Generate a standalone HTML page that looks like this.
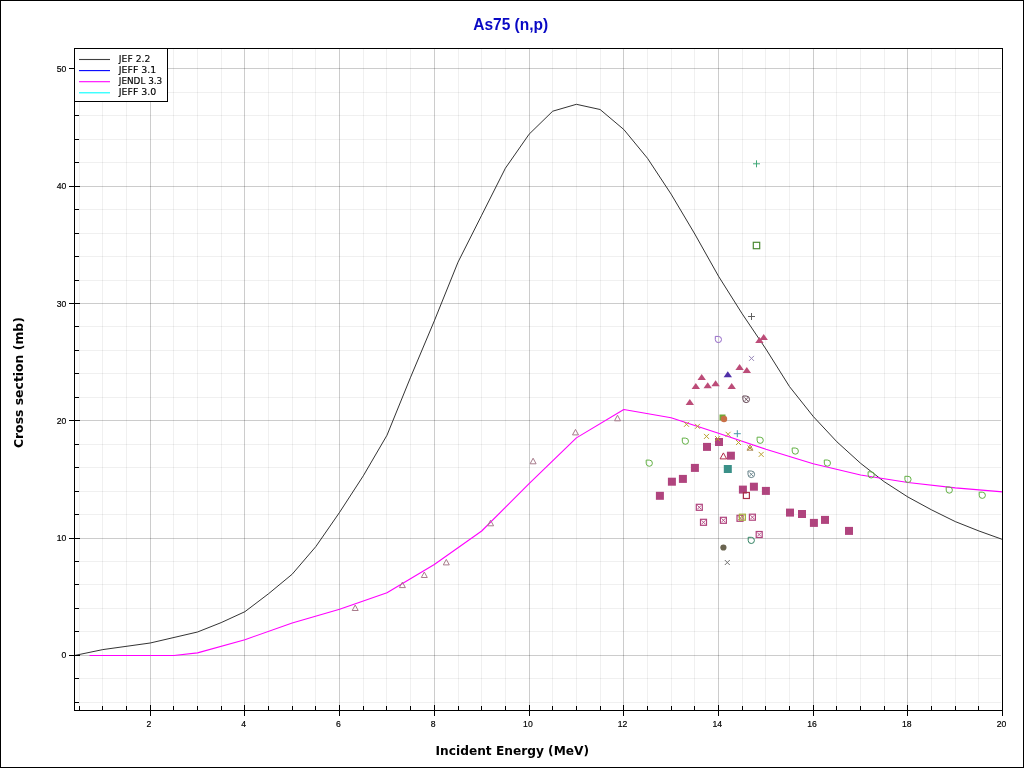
<!DOCTYPE html>
<html lang="en"><head><meta charset="utf-8"><title>As75 (n,p)</title>
<style>
html,body{margin:0;padding:0;background:#fff;}
body{width:1024px;height:768px;overflow:hidden;position:relative;font-family:"Liberation Sans",sans-serif;}
svg{position:absolute;left:0;top:0;display:block}
text{font-family:"Liberation Sans",sans-serif;}
.ax{font-family:"DejaVu Sans","Liberation Sans",sans-serif}
.tk{font-size:9.9px;fill:#000;stroke:#000;stroke-width:0.2px}
.lg{font-size:9.2px;fill:#000;stroke:#000;stroke-width:0.15px;font-family:"DejaVu Sans","Liberation Sans",sans-serif}
</style></head><body>
<svg width="1024" height="768" viewBox="0 0 1024 768">
<rect x="0.5" y="0.5" width="1023" height="767" fill="#fff" stroke="#000" stroke-width="1" shape-rendering="crispEdges"/>

<g shape-rendering="crispEdges" stroke-width="1">
<line x1="79.5" y1="49" x2="79.5" y2="710" stroke="rgba(0,0,0,0.058)"/>
<line x1="102.5" y1="49" x2="102.5" y2="710" stroke="rgba(0,0,0,0.058)"/>
<line x1="126.5" y1="49" x2="126.5" y2="710" stroke="rgba(0,0,0,0.058)"/>
<line x1="173.5" y1="49" x2="173.5" y2="710" stroke="rgba(0,0,0,0.058)"/>
<line x1="197.5" y1="49" x2="197.5" y2="710" stroke="rgba(0,0,0,0.058)"/>
<line x1="221.5" y1="49" x2="221.5" y2="710" stroke="rgba(0,0,0,0.058)"/>
<line x1="268.5" y1="49" x2="268.5" y2="710" stroke="rgba(0,0,0,0.058)"/>
<line x1="292.5" y1="49" x2="292.5" y2="710" stroke="rgba(0,0,0,0.058)"/>
<line x1="315.5" y1="49" x2="315.5" y2="710" stroke="rgba(0,0,0,0.058)"/>
<line x1="363.5" y1="49" x2="363.5" y2="710" stroke="rgba(0,0,0,0.058)"/>
<line x1="386.5" y1="49" x2="386.5" y2="710" stroke="rgba(0,0,0,0.058)"/>
<line x1="410.5" y1="49" x2="410.5" y2="710" stroke="rgba(0,0,0,0.058)"/>
<line x1="458.5" y1="49" x2="458.5" y2="710" stroke="rgba(0,0,0,0.058)"/>
<line x1="481.5" y1="49" x2="481.5" y2="710" stroke="rgba(0,0,0,0.058)"/>
<line x1="505.5" y1="49" x2="505.5" y2="710" stroke="rgba(0,0,0,0.058)"/>
<line x1="552.5" y1="49" x2="552.5" y2="710" stroke="rgba(0,0,0,0.058)"/>
<line x1="576.5" y1="49" x2="576.5" y2="710" stroke="rgba(0,0,0,0.058)"/>
<line x1="600.5" y1="49" x2="600.5" y2="710" stroke="rgba(0,0,0,0.058)"/>
<line x1="647.5" y1="49" x2="647.5" y2="710" stroke="rgba(0,0,0,0.058)"/>
<line x1="671.5" y1="49" x2="671.5" y2="710" stroke="rgba(0,0,0,0.058)"/>
<line x1="694.5" y1="49" x2="694.5" y2="710" stroke="rgba(0,0,0,0.058)"/>
<line x1="742.5" y1="49" x2="742.5" y2="710" stroke="rgba(0,0,0,0.058)"/>
<line x1="765.5" y1="49" x2="765.5" y2="710" stroke="rgba(0,0,0,0.058)"/>
<line x1="789.5" y1="49" x2="789.5" y2="710" stroke="rgba(0,0,0,0.058)"/>
<line x1="836.5" y1="49" x2="836.5" y2="710" stroke="rgba(0,0,0,0.058)"/>
<line x1="860.5" y1="49" x2="860.5" y2="710" stroke="rgba(0,0,0,0.058)"/>
<line x1="884.5" y1="49" x2="884.5" y2="710" stroke="rgba(0,0,0,0.058)"/>
<line x1="931.5" y1="49" x2="931.5" y2="710" stroke="rgba(0,0,0,0.058)"/>
<line x1="955.5" y1="49" x2="955.5" y2="710" stroke="rgba(0,0,0,0.058)"/>
<line x1="978.5" y1="49" x2="978.5" y2="710" stroke="rgba(0,0,0,0.058)"/>
<line x1="75" y1="702.5" x2="1001" y2="702.5" stroke="rgba(0,0,0,0.058)"/>
<line x1="75" y1="678.5" x2="1001" y2="678.5" stroke="rgba(0,0,0,0.058)"/>
<line x1="75" y1="631.5" x2="1001" y2="631.5" stroke="rgba(0,0,0,0.058)"/>
<line x1="75" y1="608.5" x2="1001" y2="608.5" stroke="rgba(0,0,0,0.058)"/>
<line x1="75" y1="584.5" x2="1001" y2="584.5" stroke="rgba(0,0,0,0.058)"/>
<line x1="75" y1="561.5" x2="1001" y2="561.5" stroke="rgba(0,0,0,0.058)"/>
<line x1="75" y1="514.5" x2="1001" y2="514.5" stroke="rgba(0,0,0,0.058)"/>
<line x1="75" y1="491.5" x2="1001" y2="491.5" stroke="rgba(0,0,0,0.058)"/>
<line x1="75" y1="467.5" x2="1001" y2="467.5" stroke="rgba(0,0,0,0.058)"/>
<line x1="75" y1="444.5" x2="1001" y2="444.5" stroke="rgba(0,0,0,0.058)"/>
<line x1="75" y1="397.5" x2="1001" y2="397.5" stroke="rgba(0,0,0,0.058)"/>
<line x1="75" y1="373.5" x2="1001" y2="373.5" stroke="rgba(0,0,0,0.058)"/>
<line x1="75" y1="350.5" x2="1001" y2="350.5" stroke="rgba(0,0,0,0.058)"/>
<line x1="75" y1="326.5" x2="1001" y2="326.5" stroke="rgba(0,0,0,0.058)"/>
<line x1="75" y1="280.5" x2="1001" y2="280.5" stroke="rgba(0,0,0,0.058)"/>
<line x1="75" y1="256.5" x2="1001" y2="256.5" stroke="rgba(0,0,0,0.058)"/>
<line x1="75" y1="233.5" x2="1001" y2="233.5" stroke="rgba(0,0,0,0.058)"/>
<line x1="75" y1="209.5" x2="1001" y2="209.5" stroke="rgba(0,0,0,0.058)"/>
<line x1="75" y1="162.5" x2="1001" y2="162.5" stroke="rgba(0,0,0,0.058)"/>
<line x1="75" y1="139.5" x2="1001" y2="139.5" stroke="rgba(0,0,0,0.058)"/>
<line x1="75" y1="115.5" x2="1001" y2="115.5" stroke="rgba(0,0,0,0.058)"/>
<line x1="75" y1="92.5" x2="1001" y2="92.5" stroke="rgba(0,0,0,0.058)"/>
<line x1="150.5" y1="49" x2="150.5" y2="710" stroke="rgba(0,0,0,0.2)"/>
<line x1="244.5" y1="49" x2="244.5" y2="710" stroke="rgba(0,0,0,0.2)"/>
<line x1="339.5" y1="49" x2="339.5" y2="710" stroke="rgba(0,0,0,0.2)"/>
<line x1="434.5" y1="49" x2="434.5" y2="710" stroke="rgba(0,0,0,0.2)"/>
<line x1="529.5" y1="49" x2="529.5" y2="710" stroke="rgba(0,0,0,0.2)"/>
<line x1="623.5" y1="49" x2="623.5" y2="710" stroke="rgba(0,0,0,0.2)"/>
<line x1="718.5" y1="49" x2="718.5" y2="710" stroke="rgba(0,0,0,0.2)"/>
<line x1="813.5" y1="49" x2="813.5" y2="710" stroke="rgba(0,0,0,0.2)"/>
<line x1="907.5" y1="49" x2="907.5" y2="710" stroke="rgba(0,0,0,0.2)"/>
<line x1="75" y1="655.5" x2="1001" y2="655.5" stroke="rgba(0,0,0,0.2)"/>
<line x1="75" y1="538.5" x2="1001" y2="538.5" stroke="rgba(0,0,0,0.2)"/>
<line x1="75" y1="420.5" x2="1001" y2="420.5" stroke="rgba(0,0,0,0.2)"/>
<line x1="75" y1="303.5" x2="1001" y2="303.5" stroke="rgba(0,0,0,0.2)"/>
<line x1="75" y1="186.5" x2="1001" y2="186.5" stroke="rgba(0,0,0,0.2)"/>
<line x1="75" y1="68.5" x2="1001" y2="68.5" stroke="rgba(0,0,0,0.2)"/>
</g>
<polyline points="74.4,655.5 102.8,649.6 150.2,643.0 197.5,632.0 221.2,622.6 244.9,611.7 268.6,593.7 292.2,574.2 315.9,546.5 339.6,512.3 363.3,475.8 387.0,435.2 410.6,377.2 434.3,320.9 458.0,262.2 481.7,215.2 505.4,168.2 529.1,134.2 552.7,111.2 576.4,104.3 600.1,109.5 623.8,129.5 647.5,158.3 671.1,194.1 694.8,234.0 718.5,276.2 742.2,313.8 765.9,349.0 789.5,386.6 813.2,416.4 836.9,441.8 860.6,463.3 884.2,481.7 907.9,497.0 931.6,509.9 955.3,521.6 979.0,531.0 1002.7,539.5" fill="none" stroke="#1c1c1c" stroke-width="0.9" stroke-linejoin="round"/>
<polyline points="89.5,655.5 173.9,655.5 197.5,652.9 244.9,639.7 292.2,623.0 339.6,609.3 387.0,592.8 434.3,564.5 481.7,531.0 529.1,483.7 576.4,437.9 623.8,409.5 671.1,417.7 718.5,433.2 765.9,449.2 813.2,463.7 860.6,475.0 907.9,482.5 955.3,487.9 1002.7,491.9" fill="none" stroke="#ff00ff" stroke-width="1.1" stroke-linejoin="round"/>
<path d="M352.2 610.5L355.2 605.0L358.2 610.5Z" fill="none" stroke="#a87c8c" stroke-width="1"/>
<path d="M399.4 587.6L402.4 582.1L405.4 587.6Z" fill="none" stroke="#a87c8c" stroke-width="1"/>
<path d="M421.3 577.5L424.3 572.0L427.3 577.5Z" fill="none" stroke="#a87c8c" stroke-width="1"/>
<path d="M443.3 564.9L446.3 559.4L449.3 564.9Z" fill="none" stroke="#a87c8c" stroke-width="1"/>
<path d="M487.6 525.8L490.6 520.2L493.6 525.8Z" fill="none" stroke="#a87c8c" stroke-width="1"/>
<path d="M530.1 463.8L533.1 458.2L536.1 463.8Z" fill="none" stroke="#a87c8c" stroke-width="1"/>
<path d="M572.5 434.9L575.5 429.4L578.5 434.9Z" fill="none" stroke="#a87c8c" stroke-width="1"/>
<path d="M614.5 420.8L617.5 415.2L620.5 420.8Z" fill="none" stroke="#a87c8c" stroke-width="1"/>
<path d="M646.2 460.1L649.3 460.1A3.1 3.1 0 0 1 652.4 463.2A3.1 3.1 0 0 1 649.3 466.3A3.1 3.1 0 0 1 646.2 463.2Z" fill="none" stroke="#62b044" stroke-width="1.0"/>
<path d="M682.3 438.1L685.4 438.1A3.1 3.1 0 0 1 688.5 441.2A3.1 3.1 0 0 1 685.4 444.3A3.1 3.1 0 0 1 682.3 441.2Z" fill="none" stroke="#62b044" stroke-width="1.0"/>
<path d="M757.1 437.2L760.2 437.2A3.1 3.1 0 0 1 763.3 440.3A3.1 3.1 0 0 1 760.2 443.4A3.1 3.1 0 0 1 757.1 440.3Z" fill="none" stroke="#62b044" stroke-width="1.0"/>
<path d="M792.2 448.0L795.3 448.0A3.1 3.1 0 0 1 798.4 451.1A3.1 3.1 0 0 1 795.3 454.2A3.1 3.1 0 0 1 792.2 451.1Z" fill="none" stroke="#62b044" stroke-width="1.0"/>
<path d="M824.3 460.0L827.4 460.0A3.1 3.1 0 0 1 830.5 463.1A3.1 3.1 0 0 1 827.4 466.2A3.1 3.1 0 0 1 824.3 463.1Z" fill="none" stroke="#62b044" stroke-width="1.0"/>
<path d="M868.1 471.8L871.2 471.8A3.1 3.1 0 0 1 874.3 474.9A3.1 3.1 0 0 1 871.2 478.0A3.1 3.1 0 0 1 868.1 474.9Z" fill="none" stroke="#62b044" stroke-width="1.0"/>
<path d="M904.9 476.3L908.0 476.3A3.1 3.1 0 0 1 911.1 479.4A3.1 3.1 0 0 1 908.0 482.5A3.1 3.1 0 0 1 904.9 479.4Z" fill="none" stroke="#62b044" stroke-width="1.0"/>
<path d="M946.2 487.0L949.3 487.0A3.1 3.1 0 0 1 952.4 490.1A3.1 3.1 0 0 1 949.3 493.2A3.1 3.1 0 0 1 946.2 490.1Z" fill="none" stroke="#62b044" stroke-width="1.0"/>
<path d="M979.2 492.2L982.3 492.2A3.1 3.1 0 0 1 985.4 495.3A3.1 3.1 0 0 1 982.3 498.4A3.1 3.1 0 0 1 979.2 495.3Z" fill="none" stroke="#62b044" stroke-width="1.0"/>
<path d="M715.3 336.4L718.4 336.4A3.1 3.1 0 0 1 721.5 339.5A3.1 3.1 0 0 1 718.4 342.6A3.1 3.1 0 0 1 715.3 339.5Z" fill="none" stroke="#9468c8" stroke-width="1.0"/>
<path d="M748.2 537.3L751.3 537.3A3.1 3.1 0 0 1 754.4 540.4A3.1 3.1 0 0 1 751.3 543.5A3.1 3.1 0 0 1 748.2 540.4Z" fill="none" stroke="#2e8060" stroke-width="1.0"/>
<rect x="703.0" y="442.9" width="8" height="8" fill="#b0447e"/>
<rect x="715.0" y="438.0" width="8" height="8" fill="#b0447e"/>
<rect x="726.9" y="451.7" width="8" height="8" fill="#b0447e"/>
<rect x="690.9" y="463.9" width="8" height="8" fill="#b0447e"/>
<rect x="678.9" y="474.9" width="8" height="8" fill="#b0447e"/>
<rect x="667.9" y="477.7" width="8" height="8" fill="#b0447e"/>
<rect x="655.9" y="491.8" width="8" height="8" fill="#b0447e"/>
<rect x="738.9" y="485.6" width="8" height="8" fill="#b0447e"/>
<rect x="749.9" y="482.7" width="8" height="8" fill="#b0447e"/>
<rect x="761.9" y="486.9" width="8" height="8" fill="#b0447e"/>
<rect x="786.0" y="508.6" width="8" height="8" fill="#b0447e"/>
<rect x="798.0" y="510.0" width="8" height="8" fill="#b0447e"/>
<rect x="809.9" y="518.9" width="8" height="8" fill="#b0447e"/>
<rect x="821.0" y="515.9" width="8" height="8" fill="#b0447e"/>
<rect x="845.0" y="526.9" width="8" height="8" fill="#b0447e"/>
<rect x="723.8" y="465.0" width="8" height="8" fill="#3a9088"/>
<path d="M759.5 340.1L763.7 334.1L767.9 340.1Z" fill="#bc4c78"/>
<path d="M755.2 343.1L759.4 337.1L763.6 343.1Z" fill="#bc4c78"/>
<path d="M735.4 370.0L739.6 364.0L743.8 370.0Z" fill="#bc4c78"/>
<path d="M742.6 373.0L746.8 367.0L751.0 373.0Z" fill="#bc4c78"/>
<path d="M697.5 380.0L701.7 374.0L705.9 380.0Z" fill="#bc4c78"/>
<path d="M691.6 389.1L695.8 383.1L700.0 389.1Z" fill="#bc4c78"/>
<path d="M703.5 388.2L707.7 382.2L711.9 388.2Z" fill="#bc4c78"/>
<path d="M711.4 386.2L715.6 380.2L719.8 386.2Z" fill="#bc4c78"/>
<path d="M727.5 389.1L731.7 383.1L735.9 389.1Z" fill="#bc4c78"/>
<path d="M685.6 405.1L689.8 399.1L694.0 405.1Z" fill="#bc4c78"/>
<path d="M723.6 377.2L727.8 371.2L732.0 377.2Z" fill="#5030a8"/>
<path d="M684.0 421.8L689.0 426.8M684.0 426.8L689.0 421.8" stroke="#b8a030" stroke-width="1" fill="none"/>
<path d="M695.0 423.8L700.0 428.8M695.0 428.8L700.0 423.8" stroke="#b8a030" stroke-width="1" fill="none"/>
<path d="M704.0 433.9L709.0 438.9M704.0 438.9L709.0 433.9" stroke="#b8a030" stroke-width="1" fill="none"/>
<path d="M715.1 436.1L720.1 441.1M715.1 441.1L720.1 436.1" stroke="#b8a030" stroke-width="1" fill="none"/>
<path d="M725.6 431.8L730.6 436.8M725.6 436.8L730.6 431.8" stroke="#b8a030" stroke-width="1" fill="none"/>
<path d="M736.0 440.0L741.0 445.0M736.0 445.0L741.0 440.0" stroke="#b8a030" stroke-width="1" fill="none"/>
<path d="M747.5 445.5L752.5 450.5M747.5 450.5L752.5 445.5" stroke="#b8a030" stroke-width="1" fill="none"/>
<path d="M758.7 451.9L763.7 456.9M758.7 456.9L763.7 451.9" stroke="#b8a030" stroke-width="1" fill="none"/>
<path d="M747.0 450.2L750.0 444.8L753.0 450.2Z" fill="none" stroke="#b09068" stroke-width="1"/>
<path d="M749.0 355.9L754.0 360.9M749.0 360.9L754.0 355.9" stroke="#9888b8" stroke-width="1" fill="none"/>
<path d="M724.8 560.0L729.8 565.0M724.8 565.0L729.8 560.0" stroke="#707070" stroke-width="1" fill="none"/>
<path d="M748.0 316.5L755.0 316.5M751.5 313.0L751.5 320.0" stroke="#606060" stroke-width="1" fill="none"/>
<path d="M753.0 163.8L760.0 163.8M756.5 160.3L756.5 167.3" stroke="#40a878" stroke-width="1" fill="none"/>
<path d="M733.8 433.7L740.8 433.7M737.3 430.2L737.3 437.2" stroke="#4898a8" stroke-width="1" fill="none"/>
<rect x="753.3" y="242.3" width="6.4" height="6.4" fill="none" stroke="#4c8a34" stroke-width="1.2"/>
<rect x="743.4" y="492.5" width="6" height="6" fill="none" stroke="#a83048" stroke-width="1.2"/>
<path d="M720.1 458.9L723.4 452.9L726.6 458.9Z" fill="none" stroke="#b02848" stroke-width="1"/>
<rect x="719.5" y="414.5" width="6" height="6" fill="#70a838"/>
<circle cx="724.0" cy="419.0" r="3.2" fill="#c87048"/>
<circle cx="723.4" cy="547.5" r="3.1" fill="#6a6450"/>
<path d="M742.9 396.0L746.2 396.0A3.3 3.3 0 0 1 749.5 399.3A3.3 3.3 0 0 1 746.2 402.6A3.3 3.3 0 0 1 742.9 399.3Z" fill="none" stroke="#503040" stroke-width="0.9"/>
<path d="M744.4 397.5L748.0 401.1M744.4 401.1L748.0 397.5" stroke="#503040" stroke-width="0.8" fill="none"/>
<path d="M748.0 471.0L751.3 471.0A3.3 3.3 0 0 1 754.6 474.3A3.3 3.3 0 0 1 751.3 477.6A3.3 3.3 0 0 1 748.0 474.3Z" fill="none" stroke="#507078" stroke-width="0.9"/>
<path d="M749.5 472.5L753.1 476.1M749.5 476.1L753.1 472.5" stroke="#507078" stroke-width="0.8" fill="none"/>
<rect x="696.3" y="504.3" width="6" height="6" fill="none" stroke="#b0447e" stroke-width="1.2"/>
<path d="M697.3 505.3L701.3 509.3M697.3 509.3L701.3 505.3" stroke="#b0447e" stroke-width="0.9" fill="none"/>
<rect x="700.5" y="519.3" width="6" height="6" fill="none" stroke="#b0447e" stroke-width="1.2"/>
<path d="M701.5 520.3L705.5 524.3M701.5 524.3L705.5 520.3" stroke="#b0447e" stroke-width="0.9" fill="none"/>
<rect x="720.4" y="517.3" width="6" height="6" fill="none" stroke="#b0447e" stroke-width="1.2"/>
<path d="M721.4 518.3L725.4 522.3M721.4 522.3L725.4 518.3" stroke="#b0447e" stroke-width="0.9" fill="none"/>
<rect x="737.0" y="515.3" width="6" height="6" fill="none" stroke="#b0447e" stroke-width="1.2"/>
<path d="M738.0 516.3L742.0 520.3M738.0 520.3L742.0 516.3" stroke="#b0447e" stroke-width="0.9" fill="none"/>
<rect x="749.4" y="514.2" width="6" height="6" fill="none" stroke="#b0447e" stroke-width="1.2"/>
<path d="M750.4 515.2L754.4 519.2M750.4 519.2L754.4 515.2" stroke="#b0447e" stroke-width="0.9" fill="none"/>
<rect x="756.2" y="531.5" width="6" height="6" fill="none" stroke="#b0447e" stroke-width="1.2"/>
<path d="M757.2 532.5L761.2 536.5M757.2 536.5L761.2 532.5" stroke="#b0447e" stroke-width="0.9" fill="none"/>
<rect x="739.4" y="514.2" width="6" height="6" fill="none" stroke="#a8b040" stroke-width="1.2"/>
<path d="M740.4 515.2L744.4 519.2M740.4 519.2L744.4 515.2" stroke="#a8b040" stroke-width="0.9" fill="none"/>
<g shape-rendering="crispEdges" stroke="#000" stroke-width="1" fill="none">
<rect x="74.5" y="48.5" width="928" height="662"/>
<line x1="79.5" y1="706" x2="79.5" y2="710"/>
<line x1="102.5" y1="706" x2="102.5" y2="710"/>
<line x1="126.5" y1="706" x2="126.5" y2="710"/>
<line x1="150.5" y1="705" x2="150.5" y2="716"/>
<line x1="173.5" y1="706" x2="173.5" y2="710"/>
<line x1="197.5" y1="706" x2="197.5" y2="710"/>
<line x1="221.5" y1="706" x2="221.5" y2="710"/>
<line x1="244.5" y1="705" x2="244.5" y2="716"/>
<line x1="268.5" y1="706" x2="268.5" y2="710"/>
<line x1="292.5" y1="706" x2="292.5" y2="710"/>
<line x1="315.5" y1="706" x2="315.5" y2="710"/>
<line x1="339.5" y1="705" x2="339.5" y2="716"/>
<line x1="363.5" y1="706" x2="363.5" y2="710"/>
<line x1="386.5" y1="706" x2="386.5" y2="710"/>
<line x1="410.5" y1="706" x2="410.5" y2="710"/>
<line x1="434.5" y1="705" x2="434.5" y2="716"/>
<line x1="458.5" y1="706" x2="458.5" y2="710"/>
<line x1="481.5" y1="706" x2="481.5" y2="710"/>
<line x1="505.5" y1="706" x2="505.5" y2="710"/>
<line x1="529.5" y1="705" x2="529.5" y2="716"/>
<line x1="552.5" y1="706" x2="552.5" y2="710"/>
<line x1="576.5" y1="706" x2="576.5" y2="710"/>
<line x1="600.5" y1="706" x2="600.5" y2="710"/>
<line x1="623.5" y1="705" x2="623.5" y2="716"/>
<line x1="647.5" y1="706" x2="647.5" y2="710"/>
<line x1="671.5" y1="706" x2="671.5" y2="710"/>
<line x1="694.5" y1="706" x2="694.5" y2="710"/>
<line x1="718.5" y1="705" x2="718.5" y2="716"/>
<line x1="742.5" y1="706" x2="742.5" y2="710"/>
<line x1="765.5" y1="706" x2="765.5" y2="710"/>
<line x1="789.5" y1="706" x2="789.5" y2="710"/>
<line x1="813.5" y1="705" x2="813.5" y2="716"/>
<line x1="836.5" y1="706" x2="836.5" y2="710"/>
<line x1="860.5" y1="706" x2="860.5" y2="710"/>
<line x1="884.5" y1="706" x2="884.5" y2="710"/>
<line x1="907.5" y1="705" x2="907.5" y2="716"/>
<line x1="931.5" y1="706" x2="931.5" y2="710"/>
<line x1="955.5" y1="706" x2="955.5" y2="710"/>
<line x1="978.5" y1="706" x2="978.5" y2="710"/>
<line x1="1002.5" y1="705" x2="1002.5" y2="716"/>
<line x1="75" y1="702.5" x2="79" y2="702.5"/>
<line x1="75" y1="678.5" x2="79" y2="678.5"/>
<line x1="69" y1="655.5" x2="80" y2="655.5"/>
<line x1="75" y1="631.5" x2="79" y2="631.5"/>
<line x1="75" y1="608.5" x2="79" y2="608.5"/>
<line x1="75" y1="584.5" x2="79" y2="584.5"/>
<line x1="75" y1="561.5" x2="79" y2="561.5"/>
<line x1="69" y1="538.5" x2="80" y2="538.5"/>
<line x1="75" y1="514.5" x2="79" y2="514.5"/>
<line x1="75" y1="491.5" x2="79" y2="491.5"/>
<line x1="75" y1="467.5" x2="79" y2="467.5"/>
<line x1="75" y1="444.5" x2="79" y2="444.5"/>
<line x1="69" y1="420.5" x2="80" y2="420.5"/>
<line x1="75" y1="397.5" x2="79" y2="397.5"/>
<line x1="75" y1="373.5" x2="79" y2="373.5"/>
<line x1="75" y1="350.5" x2="79" y2="350.5"/>
<line x1="75" y1="326.5" x2="79" y2="326.5"/>
<line x1="69" y1="303.5" x2="80" y2="303.5"/>
<line x1="75" y1="280.5" x2="79" y2="280.5"/>
<line x1="75" y1="256.5" x2="79" y2="256.5"/>
<line x1="75" y1="233.5" x2="79" y2="233.5"/>
<line x1="75" y1="209.5" x2="79" y2="209.5"/>
<line x1="69" y1="186.5" x2="80" y2="186.5"/>
<line x1="75" y1="162.5" x2="79" y2="162.5"/>
<line x1="75" y1="139.5" x2="79" y2="139.5"/>
<line x1="75" y1="115.5" x2="79" y2="115.5"/>
<line x1="75" y1="92.5" x2="79" y2="92.5"/>
<line x1="69" y1="68.5" x2="80" y2="68.5"/>
</g>
<text class="tk" x="149.0" y="727" text-anchor="middle" textLength="4.8" lengthAdjust="spacingAndGlyphs">2</text>
<text class="tk" x="243.7" y="727" text-anchor="middle" textLength="4.8" lengthAdjust="spacingAndGlyphs">4</text>
<text class="tk" x="338.4" y="727" text-anchor="middle" textLength="4.8" lengthAdjust="spacingAndGlyphs">6</text>
<text class="tk" x="433.1" y="727" text-anchor="middle" textLength="4.8" lengthAdjust="spacingAndGlyphs">8</text>
<text class="tk" x="527.9" y="727" text-anchor="middle" textLength="9.6" lengthAdjust="spacingAndGlyphs">10</text>
<text class="tk" x="622.6" y="727" text-anchor="middle" textLength="9.6" lengthAdjust="spacingAndGlyphs">12</text>
<text class="tk" x="717.3" y="727" text-anchor="middle" textLength="9.6" lengthAdjust="spacingAndGlyphs">14</text>
<text class="tk" x="812.0" y="727" text-anchor="middle" textLength="9.6" lengthAdjust="spacingAndGlyphs">16</text>
<text class="tk" x="906.7" y="727" text-anchor="middle" textLength="9.6" lengthAdjust="spacingAndGlyphs">18</text>
<text class="tk" x="1001.5" y="727" text-anchor="middle" textLength="9.6" lengthAdjust="spacingAndGlyphs">20</text>
<text class="tk" x="66.3" y="658.3" text-anchor="end" textLength="4.8" lengthAdjust="spacingAndGlyphs">0</text>
<text class="tk" x="66.3" y="541.0" text-anchor="end" textLength="9.6" lengthAdjust="spacingAndGlyphs">10</text>
<text class="tk" x="66.3" y="423.8" text-anchor="end" textLength="9.6" lengthAdjust="spacingAndGlyphs">20</text>
<text class="tk" x="66.3" y="306.5" text-anchor="end" textLength="9.6" lengthAdjust="spacingAndGlyphs">30</text>
<text class="tk" x="66.3" y="189.2" text-anchor="end" textLength="9.6" lengthAdjust="spacingAndGlyphs">40</text>
<text class="tk" x="66.3" y="72.0" text-anchor="end" textLength="9.6" lengthAdjust="spacingAndGlyphs">50</text>
<rect x="74.5" y="48.5" width="93" height="53" fill="#fff" stroke="#000" stroke-width="1" shape-rendering="crispEdges"/>
<line x1="79" y1="59.5" x2="110" y2="59.5" stroke="#404040" stroke-width="1.1"/>
<text class="lg" x="118.8" y="61.6" textLength="31.6" lengthAdjust="spacingAndGlyphs">JEF 2.2</text>
<line x1="79" y1="70.6" x2="110" y2="70.6" stroke="#0000ff" stroke-width="1.1"/>
<text class="lg" x="118.8" y="72.7" textLength="37.5" lengthAdjust="spacingAndGlyphs">JEFF 3.1</text>
<line x1="79" y1="81.7" x2="110" y2="81.7" stroke="#ff00ff" stroke-width="1.1"/>
<text class="lg" x="118.8" y="83.8" textLength="43.4" lengthAdjust="spacingAndGlyphs">JENDL 3.3</text>
<line x1="79" y1="92.8" x2="110" y2="92.8" stroke="#00ffff" stroke-width="1.1"/>
<text class="lg" x="118.8" y="94.9" textLength="37.5" lengthAdjust="spacingAndGlyphs">JEFF 3.0</text>
<text x="510.7" y="29.7" text-anchor="middle" font-size="16" font-weight="bold" fill="#0808c4" textLength="75" lengthAdjust="spacingAndGlyphs">As75 (n,p)</text>
<text x="512.3" y="754.8" text-anchor="middle" font-size="13" font-weight="bold" fill="#000" class="ax" textLength="153.5" lengthAdjust="spacingAndGlyphs">Incident Energy (MeV)</text>
<text transform="translate(23.0,382.6) rotate(-90)" text-anchor="middle" font-size="13" font-weight="bold" fill="#000" class="ax" textLength="131" lengthAdjust="spacingAndGlyphs">Cross section (mb)</text>
</svg></body></html>
